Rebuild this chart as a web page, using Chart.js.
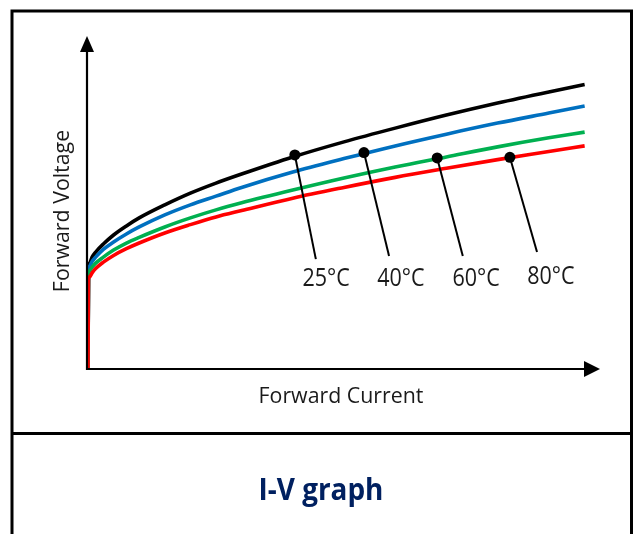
<!DOCTYPE html>
<html><head><meta charset="utf-8">
<script src="https://cdn.jsdelivr.net/npm/chart.js@4"></script>
<style>html,body{margin:0;padding:0;background:#fff}#wrap{width:635px;height:534px;position:relative}</style>
</head><body><div id="wrap"><canvas id="c"></canvas></div>
<script>
// Forward current (arbitrary units, 0..100) and forward voltage (arbitrary units, 0..100)
const current = [0, 0.1, 0.3, 0.8, 1.5, 3, 5, 7.5, 10, 15, 20, 25, 30, 40, 50, 60, 70, 80, 90, 97];
const v25 = [0, 30.4, 31.9, 33.7, 35.2, 37.6, 40.3, 43.0, 45.4, 49.3, 52.8, 55.8, 58.5, 63.6, 68.1, 72.2, 76.1, 79.7, 83.0, 85.2];
const v40 = [0, 29.6, 31.0, 32.4, 33.7, 36.0, 38.2, 40.6, 42.7, 46.3, 49.3, 51.9, 54.5, 59.1, 63.1, 66.9, 70.4, 73.7, 76.7, 78.8];
const v60 = [0, 28.7, 29.6, 30.7, 31.9, 33.7, 35.8, 37.9, 39.6, 42.7, 45.4, 47.8, 49.9, 53.7, 57.3, 60.6, 63.6, 66.6, 69.3, 71.0];
const v80 = [0, 26.9, 27.8, 29.0, 30.3, 32.2, 34.2, 36.2, 37.9, 40.9, 43.4, 45.7, 47.6, 51.3, 54.5, 57.5, 60.2, 62.8, 65.2, 66.9];
const tempLabels = ['25°C', '40°C', '60°C', '80°C'];
const markerX = [40.4, 53.9, 68.2, 82.4];
const markerY = [64.2, 64.9, 63.3, 63.5];
const leaderEndX = [44.5, 58.8, 73.2, 87.7];
const leaderEndY = [33.1, 34.0, 34.0, 35.2];
const labelX = [46.5, 61.1, 75.8, 90.4];
const labelY = [27.2, 27.2, 27.2, 27.8];
const xTitle = 'Forward Current';
const yTitle = 'Forward Voltage';
const chartTitle = 'I-V graph';

const curveColors = ['#000000', '#0070C0', '#00B050', '#FF0000'];
const series = [v25, v40, v60, v80];

const datasets = [];
series.forEach((vals, i) => {
  datasets.push({
    data: current.map((x, k) => ({x, y: vals[k]})),
    showLine: true, borderColor: curveColors[i], borderWidth: 3.6,
    pointRadius: 0, cubicInterpolationMode: 'monotone', clip: false,
    order: 5 - i
  });
});
tempLabels.forEach((t, i) => {
  datasets.push({
    data: [{x: markerX[i], y: markerY[i]}, {x: leaderEndX[i], y: leaderEndY[i]}],
    showLine: true, borderColor: '#000', borderWidth: 2, pointRadius: 0, order: 1, clip: false
  });
});
datasets.push({
  data: markerX.map((x, i) => ({x, y: markerY[i]})),
  showLine: false, pointRadius: 5.5, pointBackgroundColor: '#000', pointBorderWidth: 0,
  pointHoverRadius: 5.5, order: 0, clip: false
});

function condensedText(ctx, text, x, y, sx) {
  ctx.save();
  ctx.translate(x, y);
  ctx.scale(sx, 1);
  ctx.fillText(text, 0, 0);
  ctx.restore();
}

const deco = {
  id: 'deco',
  beforeDraw(chart) {
    const ctx = chart.ctx;
    ctx.save();
    ctx.fillStyle = '#fff';
    ctx.fillRect(0, 0, chart.width, chart.height);
    ctx.restore();
  },
  afterDatasetsDraw(chart) {
    const ctx = chart.ctx, xs = chart.scales.x, ys = chart.scales.y;
    const x0 = xs.getPixelForValue(0) - 1, y0 = ys.getPixelForValue(0) - 1;
    const xEnd = xs.getPixelForValue(100), yEnd = ys.getPixelForValue(100) + 1;
    ctx.save();
    // outer frame and divider
    ctx.strokeStyle = '#000'; ctx.lineWidth = 3;
    ctx.beginPath();
    ctx.moveTo(12, 540); ctx.lineTo(12, 11); ctx.lineTo(631.5, 11); ctx.lineTo(631.5, 540);
    ctx.moveTo(12, 433.5); ctx.lineTo(631.5, 433.5);
    ctx.stroke();
    // axes
    ctx.lineWidth = 2.2;
    ctx.beginPath();
    ctx.moveTo(x0, y0 + 1); ctx.lineTo(x0, yEnd + 14);
    ctx.moveTo(x0 - 1, y0); ctx.lineTo(xEnd - 14, y0);
    ctx.stroke();
    ctx.fillStyle = '#000';
    ctx.beginPath();
    ctx.moveTo(x0, yEnd); ctx.lineTo(x0 - 7, yEnd + 16); ctx.lineTo(x0 + 7, yEnd + 16); ctx.closePath();
    ctx.fill();
    ctx.beginPath();
    ctx.moveTo(xEnd, y0); ctx.lineTo(xEnd - 16, y0 - 8); ctx.lineTo(xEnd - 16, y0 + 8); ctx.closePath();
    ctx.fill();
    // axis titles
    ctx.fillStyle = '#1a1a1a';
    ctx.font = '22px "Open Sans"';
    ctx.textAlign = 'center'; ctx.textBaseline = 'middle';
    condensedText(ctx, xTitle, 341, 397, 0.97);
    ctx.save();
    ctx.translate(63, 211); ctx.rotate(-Math.PI / 2);
    condensedText(ctx, yTitle, 0, 0, 0.97);
    ctx.restore();
    // temperature labels
    ctx.font = '25px "Open Sans"';
    tempLabels.forEach((t, i) => {
      condensedText(ctx, t, xs.getPixelForValue(labelX[i]), ys.getPixelForValue(labelY[i]), 0.86);
    });
    // chart title
    ctx.fillStyle = '#002060';
    ctx.font = 'bold 31px "Open Sans"';
    condensedText(ctx, chartTitle, 321, 491, 0.9);
    ctx.restore();
  }
};

new Chart(document.getElementById('c'), {
  type: 'scatter',
  data: {datasets},
  options: {
    responsive: true, maintainAspectRatio: false, animation: false,
    layout: {padding: {left: 88, right: 35, top: 35, bottom: 164}},
    plugins: {legend: {display: false}, tooltip: {enabled: false}},
    scales: {
      x: {type: 'linear', min: 0, max: 100, display: false},
      y: {type: 'linear', min: 0, max: 100, display: false}
    }
  },
  plugins: [deco]
});
</script>
</body></html>
